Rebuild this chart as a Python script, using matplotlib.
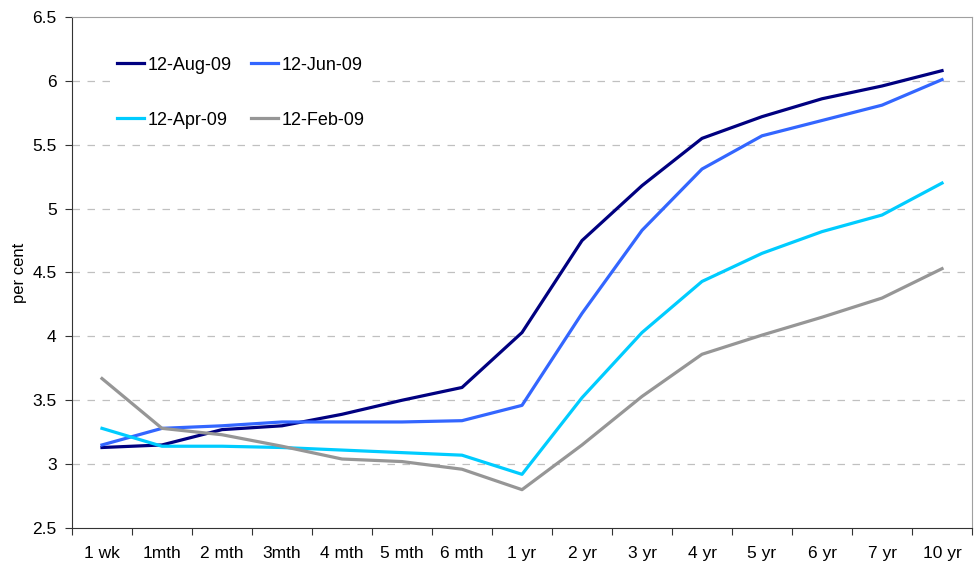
import matplotlib.pyplot as plt

plt.rcParams['font.family'] = ['Liberation Sans', 'DejaVu Sans']

# maturities on the x axis
maturities = ['1 wk', '1mth', '2 mth', '3mth', '4 mth', '5 mth', '6 mth',
              '1 yr', '2 yr', '3 yr', '4 yr', '5 yr', '6 yr', '7 yr', '10 yr']

# yield curves, per cent
aug09 = [3.13, 3.15, 3.27, 3.30, 3.39, 3.50, 3.60, 4.03, 4.75, 5.18, 5.55, 5.72, 5.86, 5.96, 6.08]
jun09 = [3.15, 3.28, 3.30, 3.33, 3.33, 3.33, 3.34, 3.46, 4.18, 4.83, 5.31, 5.57, 5.69, 5.81, 6.01]
apr09 = [3.28, 3.14, 3.14, 3.13, 3.11, 3.09, 3.07, 2.92, 3.52, 4.03, 4.43, 4.65, 4.82, 4.95, 5.20]
feb09 = [3.67, 3.28, 3.23, 3.14, 3.04, 3.02, 2.96, 2.80, 3.15, 3.53, 3.86, 4.01, 4.15, 4.30, 4.53]

fig = plt.figure(figsize=(9.78, 5.65), dpi=100)
ax = fig.add_axes([0.0736, 0.0655, 0.9203, 0.9044])

x = range(len(maturities))
l_aug, = ax.plot(x, aug09, color='#000080', lw=2.3, label='12-Aug-09')
l_jun, = ax.plot(x, jun09, color='#3366FF', lw=2.3, label='12-Jun-09')
l_apr, = ax.plot(x, apr09, color='#00CCFF', lw=2.3, label='12-Apr-09')
l_feb, = ax.plot(x, feb09, color='#969696', lw=2.3, label='12-Feb-09')

ax.set_xlim(-0.5, len(maturities) - 0.5)
ax.set_ylim(2.5, 6.5)
ax.set_yticks([2.5, 3, 3.5, 4, 4.5, 5, 5.5, 6, 6.5])
ax.set_yticklabels(['2.5', '3', '3.5', '4', '4.5', '5', '5.5', '6', '6.5'])
ax.set_xticks([i - 0.5 for i in range(len(maturities) + 1)])
ax.set_xticklabels([])
ax.set_xticks(list(x), minor=True)
ax.set_xticklabels(maturities, minor=True)
ax.tick_params(axis='x', which='minor', length=0, pad=13, labelsize=12.5)
ax.tick_params(axis='x', which='major', length=5, direction='out', color='#333333')
ax.tick_params(axis='y', length=5, direction='out', labelsize=12.5, pad=6, color='#333333')

# dashed grid at inner levels only
for yv in [3, 3.5, 4, 4.5, 5, 5.5, 6]:
    ax.axhline(yv, color='#C0C0C0', lw=0.9, ls=(0, (6, 6)), zorder=0)

ax.spines['top'].set_color('#A0A0A0')
ax.spines['right'].set_color('#A0A0A0')
ax.spines['left'].set_color('#333333')
ax.spines['bottom'].set_color('#333333')

ax.set_ylabel('per cent', fontsize=12)
ax.yaxis.set_label_coords(-0.05, 0.5)

# legend filled row by row: Aug, Jun / Apr, Feb
leg = ax.legend([l_aug, l_apr, l_jun, l_feb],
                ['12-Aug-09', '12-Apr-09', '12-Jun-09', '12-Feb-09'],
                loc='upper left', bbox_to_anchor=(0.044, 0.933), borderaxespad=0,
                ncol=2, fontsize=13,
                frameon=True, edgecolor='none', facecolor='white', framealpha=1,
                handlelength=1.5, handletextpad=0.17, columnspacing=1.1,
                labelspacing=2.1, borderpad=0.3)

fig.savefig('out.png', dpi=100)
